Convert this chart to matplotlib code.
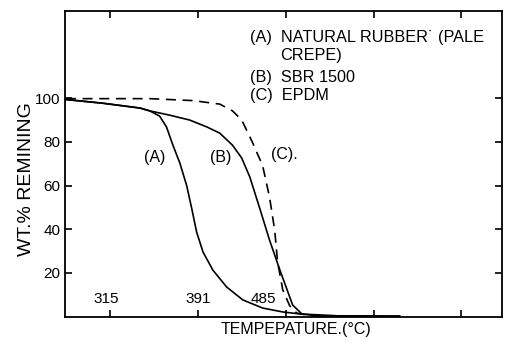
import matplotlib
matplotlib.use("Agg")
import matplotlib.pyplot as plt

# TGA curves (temperature in deg C, weight %)
temp_a = [277, 309, 341, 349.5, 358, 364, 369.5, 375.5, 381.5, 386, 390, 395.5,
          404, 416, 430, 447, 464.5, 479, 513.5, 565.5]
wt_a = [99.4, 97.7, 95.5, 94.2, 91.8, 86.8, 78.5, 70.3, 59.8, 48.9, 38.7, 29.6,
        21.3, 13.5, 7.6, 3.9, 2.1, 1.2, 0.3, 0.2]

temp_b = [277, 309, 341, 349.5, 367, 384, 399, 410, 421, 429, 436, 444.5,
          453, 462, 468, 473, 481, 494, 565.5]
wt_b = [99.4, 97.7, 95.5, 94.2, 92.2, 90.0, 86.8, 84.0, 78.5, 72.6, 63.9, 49.7,
        35.1, 21.3, 12.6, 5.3, 1.2, 0.3, 0.2]

temp_c = [277, 349.5, 387, 410, 421, 429, 434, 438.5, 443, 447, 453, 457.5,
          460, 464.5, 470.5, 476.5, 488, 505]
wt_c = [99.8, 99.8, 98.9, 97.3, 94.2, 90.0, 84.5, 79.5, 74.0, 69.3, 54.8, 39.6,
        25.0, 12.2, 4.9, 1.6, 0.3, 0.2]

x_ticks = [315, 391, 467, 543, 619]
y_ticks = [20, 40, 60, 80, 100]
y_ticklabels = ['20', '40', '60', '80', '100']

# onset temperatures printed inside the plot
onset_temps = ['315', '391', '485']
onset_x = [312, 391, 448]

# key text, line by line (x, y in data units)
legend_lines = ['(A)  NATURAL RUBBER\u02d9 (PALE', 'CREPE)', '(B)  SBR 1500', '(C)  EPDM']
legend_x = [436, 462, 436, 436]
legend_y = [128.0, 119.7, 109.6, 101.4]

plt.rcParams['font.family'] = ['Liberation Sans', 'DejaVu Sans']

fig = plt.figure(figsize=(5.06, 3.40), dpi=100)
ax = fig.add_axes([0.128, 0.069, 0.864, 0.899])

ax.plot(temp_a, wt_a, color='black', lw=1.2)
ax.plot(temp_b, wt_b, color='black', lw=1.2)
ax.plot(temp_c, wt_c, color='black', lw=1.2, linestyle=(0, (6, 4)))

ax.set_xlim(276, 654)
ax.set_ylim(0, 140)
ax.set_xticks(x_ticks)
ax.set_yticks(y_ticks)
ax.set_yticklabels(y_ticklabels)
ax.tick_params(direction='in', length=5, width=1.2, top=True, right=True,
               labelsize=11, pad=3)
ax.tick_params(axis='x', labelbottom=False)
for s in ax.spines.values():
    s.set_linewidth(1.3)

ax.set_ylabel('WT.% REMINING', fontsize=14)
ax.yaxis.set_label_coords(-0.069, 0.45)
ax.set_xlabel('TEMPEPATURE.(\u00b0C)', fontsize=11.5, va='center')
ax.xaxis.set_label_coords(0.53, -0.044)

for lbl, xv in zip(onset_temps, onset_x):
    ax.text(xv, 5, lbl, fontsize=11, ha='center', va='bottom')

ax.text(354, 73, '(A)', fontsize=11.5, ha='center', va='center')
ax.text(411, 73, '(B)', fontsize=11.5, ha='center', va='center')
ax.text(466, 74, '(C).', fontsize=11.5, ha='center', va='center')

for line, xv, yv in zip(legend_lines, legend_x, legend_y):
    ax.text(xv, yv, line, fontsize=11.7, ha='left', va='center')

fig.savefig('out.png', dpi=100)
